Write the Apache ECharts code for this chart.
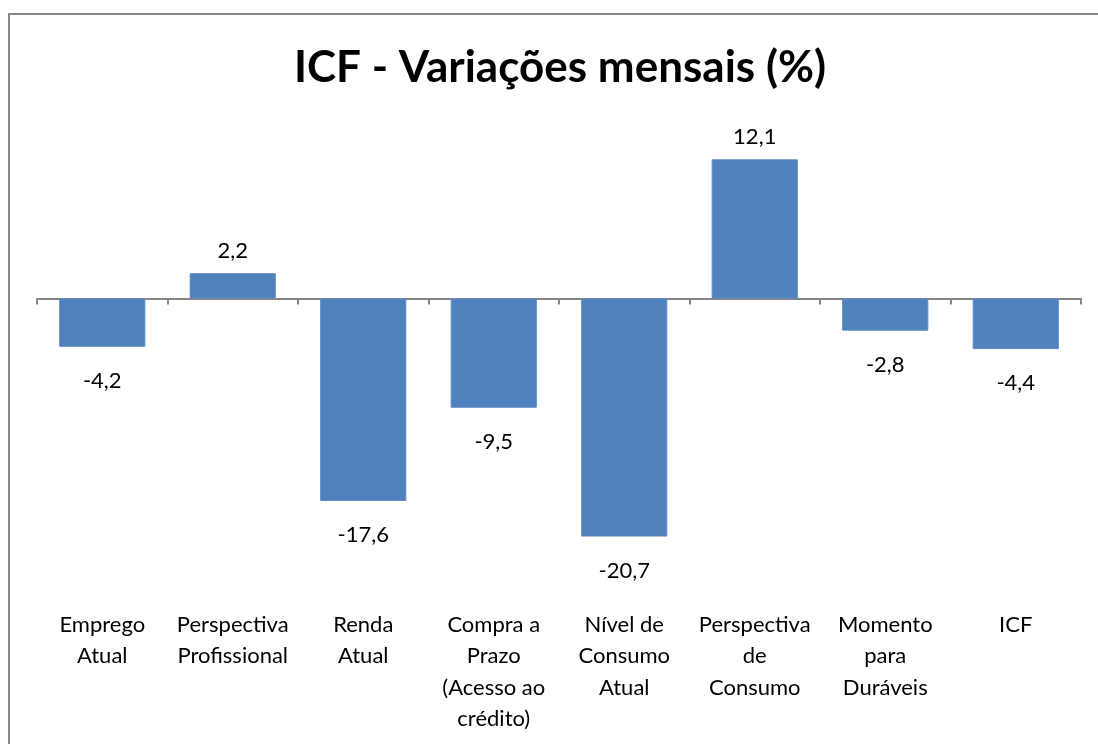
<!DOCTYPE html>
<html>
<head>
    <meta charset="utf-8">
    <title>ICF</title>
    <script src="https://cdn.jsdelivr.net/npm/echarts@6/dist/echarts.min.js"></script>
</head>
<body style="margin:0">
<div id="main" style="width:1098px;height:744px;"></div>
<script type="text/javascript">
    var categorias = ['Emprego\nAtual', 'Perspectiva\nProfissional', 'Renda\nAtual',
        'Compra a\nPrazo\n(Acesso ao\ncrédito)', 'Nível de\nConsumo\nAtual',
        'Perspectiva\nde\nConsumo', 'Momento\npara\nDuráveis', 'ICF'];
    var variacoes = [-4.2, 2.2, -17.6, -9.5, -20.7, 12.1, -2.8, -4.4];

    var fonte = 'Lato, "Open Sans", sans-serif';

    var myChart = echarts.init(document.getElementById('main'));

    // rótulo acima das barras positivas, abaixo das negativas
    var dados = variacoes.map(function (v) {
        return {
            value: v,
            label: v >= 0 ? {position: 'top', distance: 11} : {position: 'bottom', distance: 23}
        };
    });

    var option = {
        backgroundColor: '#fff',
        animation: false,
        title: {
            text: 'ICF - Variações mensais (%)',
            left: 555,
            top: 41,
            textAlign: 'center',
            textStyle: {fontFamily: fonte, fontWeight: 'bold', fontSize: 44, color: '#000'}
        },
        graphic: [{
            type: 'polyline',
            shape: {points: [[9, 760], [9, 14], [1098, 14]]},
            style: {fill: 'none', stroke: '#868686', lineWidth: 2}
        }],
        grid: {left: 37, right: 17, top: 126, bottom: 158},
        xAxis: [{
            type: 'category',
            data: categorias,
            axisLine: {onZero: true, lineStyle: {color: '#868686', width: 2}},
            axisTick: {show: true, length: 6, lineStyle: {color: '#868686', width: 2}},
            axisLabel: {show: false}
        }, {
            type: 'category',
            data: categorias,
            position: 'bottom',
            axisLine: {show: false, onZero: false},
            axisTick: {show: false},
            axisLabel: {
                interval: 0,
                margin: 23,
                lineHeight: 31.5,
                fontSize: 22,
                fontFamily: fonte,
                color: '#000'
            }
        }],
        yAxis: {
            type: 'value',
            min: -25,
            max: 15,
            show: false,
            splitLine: {show: false}
        },
        series: [{
            type: 'bar',
            data: dados,
            barCategoryGap: '34%',
            itemStyle: {color: '#4F81BD', borderColor: '#5B8BC6', borderWidth: 1},
            label: {
                show: true,
                fontSize: 22,
                fontFamily: fonte,
                color: '#000',
                formatter: function (p) {
                    return String(p.value).replace('.', ',');
                }
            }
        }]
    };

    myChart.setOption(option);
</script>
</body>
</html>
